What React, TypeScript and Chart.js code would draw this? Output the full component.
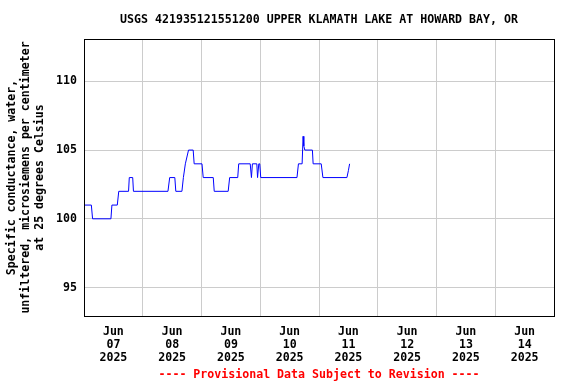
import React, { useEffect, useRef } from 'react';
import { Chart, registerables } from 'chart.js';

Chart.register(...registerables);

const TITLE = 'USGS 421935121551200 UPPER KLAMATH LAKE AT HOWARD BAY, OR';
const Y_TITLE = [
  'Specific conductance, water,',
  'unfiltered, microsiemens per centimeter',
  'at 25 degrees Celsius',
];
const FOOTER = '---- Provisional Data Subject to Revision ----';
const MONTH = 'Jun';
const YEAR = '2025';
const DAY_LABELS = ['07', '08', '09', '10', '11', '12', '13', '14'];
const Y_TICKS = [95, 100, 105, 110];
const Y_MIN = 92.93;
const Y_MAX = 113.08;

// hours since 2025-06-07 00:00
const HOURS = [
  0, 3.0, 3.5, 11.0, 11.4, 13.6, 14.2, 18.2, 18.5, 19.9, 20.2, 34.3, 35.0, 37.1, 37.5,
  40.0, 40.6, 41.4, 42.7, 44.6, 45.0, 48.2, 48.7, 52.8, 53.2, 58.9, 59.5, 62.8, 63.2,
  67.9, 68.4, 68.8, 70.6, 70.9, 71.4, 71.8, 72.2, 87.0, 87.6, 89.1, 89.5, 89.8, 90.2,
  93.3, 93.6, 96.9, 97.6, 107.4, 108.0, 108.5,
];
const VALUES = [
  101, 101, 100, 100, 101, 101, 102, 102, 103, 103, 102, 102, 103, 103, 102,
  102, 103, 104, 105, 105, 104, 104, 103, 103, 102, 102, 103, 103, 104,
  104, 103, 104, 104, 103, 104, 104, 103, 103, 104, 104, 106, 105.3, 105,
  105, 104, 104, 103, 103, 103.5, 104,
];

const FONT_FAMILY = '"DejaVu Sans Mono", "Liberation Mono", monospace';
const FONT_SIZE = 11.6;

const framePlugin = {
  id: 'framePlugin',
  afterDraw(chart: any) {
    const { ctx, chartArea } = chart;
    const { left, right, top, bottom } = chartArea;
    ctx.save();
    ctx.strokeStyle = '#000000';
    ctx.lineWidth = 1;
    ctx.strokeRect(Math.round(left) + 0.5, Math.round(top) + 0.5, Math.round(right - left), Math.round(bottom - top));
    const cx = (left + right) / 2;
    ctx.font = `bold ${FONT_SIZE}px ${FONT_FAMILY}`;
    ctx.textAlign = 'center';
    ctx.textBaseline = 'middle';
    ctx.fillStyle = '#000000';
    ctx.fillText(TITLE, cx, 20);
    ctx.fillStyle = '#ff0000';
    ctx.fillText(FOOTER, cx, 375);
    ctx.fillStyle = '#000000';
    const cy = (top + bottom) / 2;
    const xs = [12, 26, 39.5];
    Y_TITLE.forEach((t, i) => {
      ctx.save();
      ctx.translate(xs[i], cy);
      ctx.rotate(-Math.PI / 2);
      ctx.fillText(t, 0, 0);
      ctx.restore();
    });
    ctx.restore();
  },
};

export default function App() {
  const ref = useRef<HTMLCanvasElement>(null);
  useEffect(() => {
    if (!ref.current) return;
    const data = HOURS.map((h, i) => ({ x: h, y: VALUES[i] }));
    const font = { family: FONT_FAMILY, size: FONT_SIZE, weight: 'bold' as const, lineHeight: 1.1 };
    const chart = new Chart(ref.current, {
      type: 'line',
      data: {
        datasets: [
          {
            data,
            borderColor: '#0000ff',
            borderWidth: 1,
            pointRadius: 0,
            tension: 0,
            fill: false,
          },
        ],
      },
      options: {
        animation: false,
        responsive: false,
        maintainAspectRatio: false,
        layout: { padding: { left: 0, right: 22, top: 39, bottom: 0 } },
        plugins: { legend: { display: false }, tooltip: { enabled: false }, title: { display: false } },
        scales: {
          x: {
            type: 'linear',
            min: 0,
            max: 192,
            afterBuildTicks: (s: any) => {
              const t = [];
              for (let i = 0; i <= 16; i++) t.push({ value: i * 12 });
              s.ticks = t;
            },
            afterFit: (s: any) => {
              s.height = 68;
            },
            grid: {
              color: (c: any) => (c.tick && c.tick.value % 24 === 0 ? '#cccccc' : 'rgba(0,0,0,0)'),
              drawTicks: false,
              lineWidth: 1,
            },
            border: { display: true, color: '#000000' },
            ticks: {
              autoSkip: false,
              maxRotation: 0,
              padding: 10,
              color: '#000000',
              font,
              callback: (v: any) => {
                const n = Number(v);
                if (n % 24 === 12) {
                  const d = DAY_LABELS[Math.floor(n / 24)];
                  return [MONTH, d, YEAR];
                }
                return '';
              },
            },
          },
          y: {
            type: 'linear',
            min: Y_MIN,
            max: Y_MAX,
            afterBuildTicks: (s: any) => {
              s.ticks = Y_TICKS.map((v) => ({ value: v }));
            },
            afterFit: (s: any) => {
              s.width = 84;
            },
            grid: { color: '#cccccc', drawTicks: false, lineWidth: 1 },
            border: { display: true, color: '#000000' },
            ticks: {
              padding: 7,
              color: '#000000',
              font,
              callback: (v: any) => String(v),
            },
          },
        },
      },
      plugins: [framePlugin],
    });
    return () => chart.destroy();
  }, []);
  return (
    <div>
      <canvas
        ref={ref}
        width={576}
        height={384}
        style={{ display: 'block', position: 'fixed', left: 0, top: 0, background: '#ffffff' }}
      />
    </div>
  );
}
